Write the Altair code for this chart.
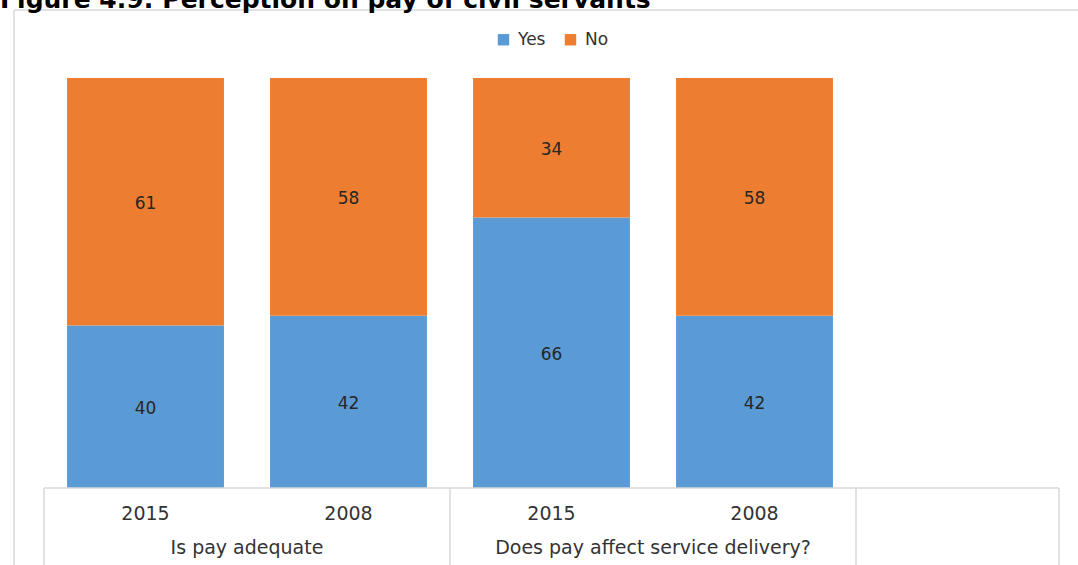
import altair as alt
import pandas as pd

# ---- data ----
groups = ["Is pay adequate", "Is pay adequate",
          "Does pay affect service delivery?", "Does pay affect service delivery?"]
years = ["2015", "2008", "2015", "2008"]
yes_vals = [40, 42, 66, 42]
no_vals = [61, 58, 34, 58]
answers = ["Yes", "No"]
colors = ["#5B9BD5", "#ED7D31"]
title_text = "Figure 4.9: Perception on pay of civil servants"

keys = [f"{g}|{y}" for g, y in zip(groups, years)]
slots = keys + ["(empty)"]   # the category table has one empty slot at the right

rows = []
for k, g, y, a, b in zip(keys, groups, years, yes_vals, no_vals):
    rows.append(dict(key=k, group=g, year=y, answer="Yes", value=a, order=0))
    rows.append(dict(key=k, group=g, year=y, answer="No", value=b, order=1))
df = pd.DataFrame(rows)

# group boundaries and centres in slot units (for the category table)
starts = [i for i, g in enumerate(groups) if i == 0 or groups[i - 1] != g]
seps = sorted(set(starts) | {len(groups), len(slots)})
gdf = pd.DataFrame({"group": groups, "idx": list(range(len(groups)))})
gcent = gdf.groupby("group", sort=False)["idx"].agg(["min", "max"]).reset_index()
gcent["center"] = (gcent["min"] + gcent["max"] + 1) / 2
sep_df = pd.DataFrame({"pos": seps})

W, H = 1015, 410
FONT = "DejaVu Sans"
GRID = "#D9D9D9"
TXT = "#333333"

xband = alt.X("key:N", sort=slots,
              scale=alt.Scale(domain=slots, paddingInner=0.227, paddingOuter=0.1135),
              axis=None)
ylin = alt.Scale(domain=[0, 1])

bars = alt.Chart(df).mark_bar().encode(
    x=xband,
    y=alt.Y("value:Q", stack="normalize", scale=ylin, axis=None),
    color=alt.Color("answer:N",
                    scale=alt.Scale(domain=answers, range=colors),
                    legend=alt.Legend(title=None, orient="none", direction="horizontal",
                                      legendX=451, legendY=-47,
                                      symbolType="square", symbolSize=130,
                                      symbolStrokeWidth=0,
                                      labelFont=FONT, labelFontSize=17, labelColor=TXT,
                                      labelOffset=6, columnPadding=16)),
    order=alt.Order("order:Q"),
)

labels = alt.Chart(df).transform_stack(
    stack="value", groupby=["key"], as_=["y0", "y1"], offset="normalize",
    sort=[alt.SortField("order", order="ascending")]
).transform_calculate(
    mid="(datum.y0 + datum.y1) / 2"
).mark_text(font=FONT, fontSize=17, color="#262626", baseline="middle", dy=2).encode(
    x=xband,
    y=alt.Y("mid:Q", scale=ylin, axis=None),
    text="value:Q",
)

year_labels = alt.Chart(df).transform_filter(
    alt.datum.answer == "Yes"
).mark_text(font=FONT, fontSize=19, color=TXT, baseline="middle").encode(
    x=xband,
    y=alt.value(436),
    text="year:N",
)

xlin = alt.Scale(domain=[0, len(slots)], range=[0, W])

sep_rules = alt.Chart(sep_df).mark_rule(color=GRID, strokeWidth=1.5).encode(
    x=alt.X("pos:Q", scale=xlin, axis=None),
    y=alt.value(H),
    y2=alt.value(H + 78),
)

group_labels = alt.Chart(gcent).mark_text(font=FONT, fontSize=19, color=TXT,
                                          baseline="middle").encode(
    x=alt.X("center:Q", scale=xlin, axis=None),
    y=alt.value(470),
    text="group:N",
)

one = pd.DataFrame({"a": [0]})
base_line = alt.Chart(one).mark_rule(color=GRID, strokeWidth=1.5).encode(
    x=alt.value(0), x2=alt.value(W), y=alt.value(H))
frame_top = alt.Chart(one).mark_rule(color=GRID, strokeWidth=1.5).encode(
    x=alt.value(-30), x2=alt.value(W + 40), y=alt.value(-68))
frame_left = alt.Chart(one).mark_rule(color=GRID, strokeWidth=1.5).encode(
    x=alt.value(-30), y=alt.value(-68), y2=alt.value(H + 78))

title = alt.Chart(one).mark_text(font=FONT, fontSize=25, fontWeight="bold",
                                 color="#000000", align="left",
                                 baseline="alphabetic").encode(
    x=alt.value(-44), y=alt.value(-70), text=alt.value(title_text))

chart = alt.layer(
    frame_top, frame_left, title,
    bars, labels, year_labels,
    base_line, sep_rules, group_labels,
).resolve_scale(x="independent").properties(
    width=W, height=H,
    autosize=alt.AutoSizeParams(type="none"),
    padding={"left": 44, "top": 78, "right": 19, "bottom": 77},
).configure_view(stroke=None)

chart.save("out.html", embed_options={"renderer": "svg", "actions": False})
